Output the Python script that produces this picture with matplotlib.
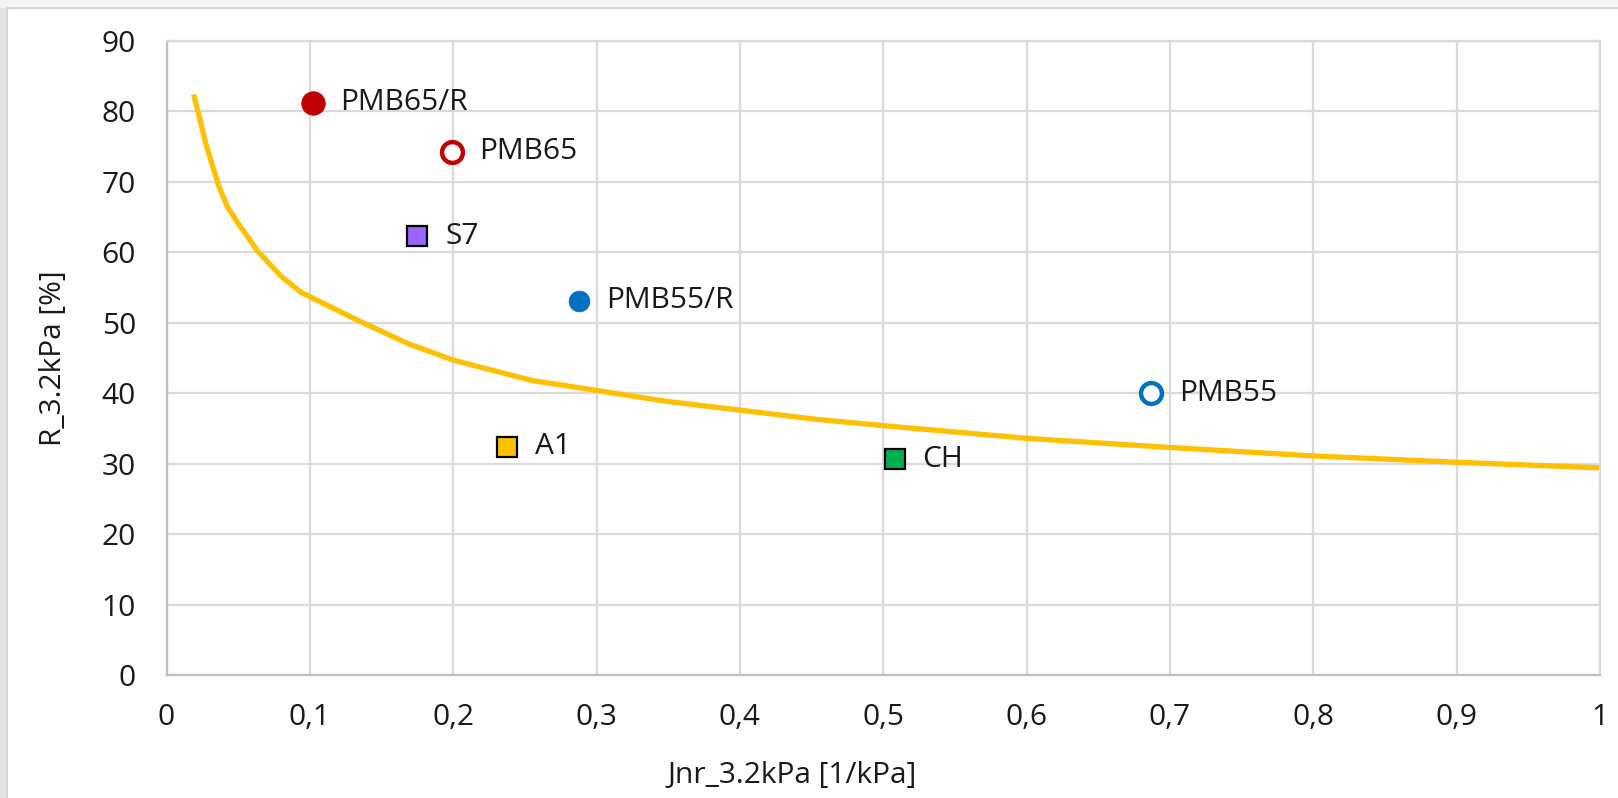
import matplotlib
matplotlib.use("Agg")
import matplotlib.pyplot as plt
from matplotlib.patches import Rectangle

# ---- data ----
names = ["PMB65/R", "PMB65", "S7", "PMB55/R", "A1", "CH", "PMB55"]
jnr = [0.102, 0.199, 0.175, 0.2875, 0.2375, 0.508, 0.687]
rec = [81.2, 74.3, 62.3, 53.1, 32.4, 30.6, 40.0]
face = ["#C00000", "white", "#9966FF", "#0070C0", "#FFC000", "#00B050", "white"]
edge = ["#C00000", "#C00000", "black", "#0070C0", "black", "black", "#0070C0"]
shape = ["o", "o", "s", "o", "s", "s", "o"]

curve_x = [0.019, 0.028, 0.0365, 0.0424, 0.050, 0.0635, 0.080, 0.094, 0.100, 0.134,
           0.169, 0.200, 0.255, 0.300, 0.347, 0.400, 0.453, 0.500, 0.600, 0.700,
           0.800, 0.900, 1.000]
curve_y = [82.4, 75.0, 69.4, 66.5, 64.1, 60.2, 56.6, 54.3, 53.7, 50.3,
           47.0, 44.7, 41.8, 40.4, 38.9, 37.6, 36.3, 35.4, 33.6, 32.3,
           31.1, 30.2, 29.4]

xticks = [0, 0.1, 0.2, 0.3, 0.4, 0.5, 0.6, 0.7, 0.8, 0.9, 1.0]
xticklabels = ["0", "0,1", "0,2", "0,3", "0,4", "0,5", "0,6", "0,7", "0,8", "0,9", "1"]
yticks = list(range(0, 91, 10))

plt.rcParams['font.family'] = ['Open Sans', 'DejaVu Sans']
FS = 21.5
TXT = "#1a1a1a"

W, H = 1618, 798
fig = plt.figure(figsize=(W / 100, H / 100), dpi=100)
fig.patch.set_facecolor("white")

# outer frame (light gray strips at left and top)
fig.patches.append(Rectangle((0, 0), 7 / W, 1, transform=fig.transFigure,
                             facecolor="#E3E3E3", edgecolor="none", zorder=0))
fig.patches.append(Rectangle((0, 1 - 8 / H), 1, 8 / H, transform=fig.transFigure,
                             facecolor="#F4F4F4", edgecolor="none", zorder=0))
fig.add_artist(plt.Line2D([7 / W, 1], [1 - 8 / H, 1 - 8 / H], transform=fig.transFigure,
                          color="#D6D6D6", lw=1.5))
fig.add_artist(plt.Line2D([7 / W, 7 / W], [0, 1 - 8 / H], transform=fig.transFigure,
                          color="#D6D6D6", lw=1.5))

left, right, bottom, top = 166.5 / W, 1600 / W, (H - 675) / H, (H - 41) / H
ax = fig.add_axes([left, bottom, right - left, top - bottom])
ax.set_xlim(0, 1)
ax.set_ylim(0, 90)
ax.set_xticks(xticks)
ax.set_xticklabels(xticklabels)
ax.set_yticks(yticks)
ax.grid(True, color="#D9D9D9", lw=1.6)
ax.set_axisbelow(True)
for s in ["top", "right"]:
    ax.spines[s].set_color("#D9D9D9")
    ax.spines[s].set_linewidth(1.6)
for s in ["left", "bottom"]:
    ax.spines[s].set_color("#BFBFBF")
    ax.spines[s].set_linewidth(1.6)
ax.tick_params(length=0, labelsize=FS, colors=TXT)
ax.tick_params(axis="y", pad=22)
ax.tick_params(axis="x", pad=20)

ax.plot(curve_x, curve_y, color="#FFC000", lw=3.8, zorder=2,
        solid_capstyle="butt", solid_joinstyle="round")

for n, x, y, fc, ec, m in zip(names, jnr, rec, face, edge, shape):
    if m == "o":
        if fc == "white":
            ms, mew = 15, 3.2
        else:
            ms, mew = (17 if n == "PMB65/R" else 15), 0.5
    else:
        ms, mew = 15, 1.6
    ax.plot([x], [y], marker=m, ms=ms, mfc=fc, mec=ec, mew=mew, ls="none", zorder=3)
    ax.annotate(n, (x, y), xytext=(20, 0), textcoords="offset points",
                ha="left", va="center", fontsize=FS, color=TXT, zorder=4)

ax.set_xlabel("Jnr_3.2kPa [1/kPa]", fontsize=FS, color=TXT)
ax.set_ylabel("R_3.2kPa [%]", fontsize=FS, color=TXT)
ax.xaxis.set_label_coords((792 - 166.5) / 1433.5, (675 - 776) / 634)
ax.xaxis.label.set_va("center")
ax.yaxis.set_label_coords((54 - 166.5) / 1433.5, 0.5)
ax.yaxis.label.set_va("center")

fig.savefig("out.png", dpi=100, facecolor=fig.get_facecolor())
